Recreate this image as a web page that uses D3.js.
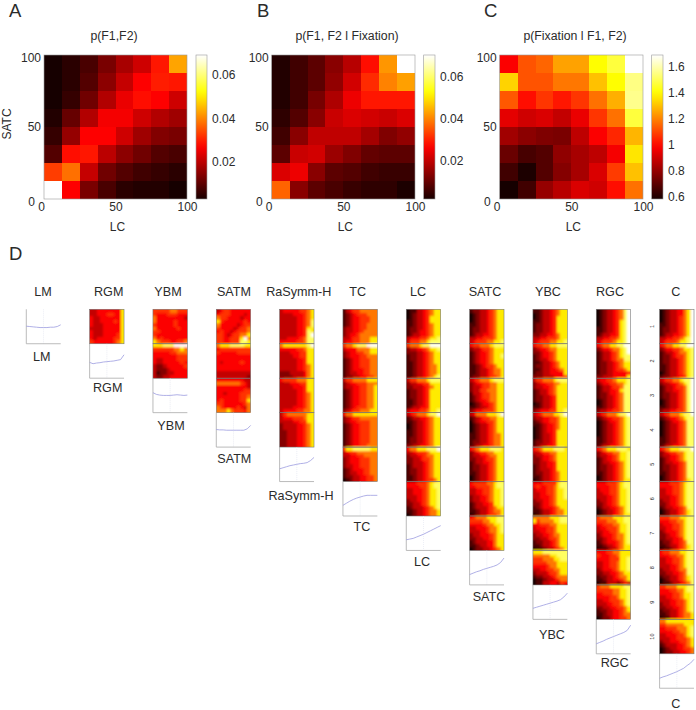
<!DOCTYPE html>
<html><head><meta charset="utf-8">
<script src="https://cdn.jsdelivr.net/npm/d3@7"></script>
<style>html,body{margin:0;padding:0;background:#fff}svg{display:block}text{font-family:"Liberation Sans",Arial,sans-serif;fill:#2b2b2b}</style>
</head><body><svg id="c" width="696" height="710"></svg>
<script>
// ---------- top panels ----------
const tickLabels=[0,50,100];
const binEdges=d3.range(8);
const pJoint=[
[.003,.005,.008,.013,.018,.022,.029,.043],
[.003,.005,.009,.015,.021,.027,.030,.029],
[.003,.006,.012,.019,.025,.028,.027,.022],
[.004,.011,.019,.026,.026,.022,.019,.017],
[.006,.016,.027,.027,.022,.017,.014,.013],
[.009,.028,.029,.020,.015,.012,.009,.008],
[.033,.038,.021,.012,.009,.007,.006,.005],
[.069,.027,.013,.008,.005,.004,.004,.003]];
const pFix=[
[.003,.006,.009,.014,.019,.028,.042,.0705],
[.003,.006,.009,.015,.022,.031,.040,.043],
[.003,.006,.012,.018,.025,.029,.029,.029],
[.004,.008,.014,.021,.023,.022,.021,.023],
[.006,.014,.020,.020,.020,.017,.013,.015],
[.009,.021,.022,.016,.013,.010,.009,.009],
[.023,.025,.014,.009,.008,.006,.005,.005],
[.037,.014,.009,.007,.005,.004,.004,.002]];
const pCond=[
[.98,1.12,1.15,1.25,1.25,1.40,1.47,1.69],
[1.33,1.12,1.12,1.18,1.18,1.30,1.40,1.55],
[1.13,1.00,1.07,1.02,1.07,1.17,1.27,1.56],
[.94,.90,.92,.88,.95,1.07,1.17,1.47],
[.82,.78,.76,.75,.87,.98,1.05,1.28],
[.72,.66,.68,.79,.83,.87,.97,1.36],
[.65,.59,.68,.77,.83,.92,1.08,1.30],
[.58,.65,.80,.86,.92,.90,1.00,1.17]];
// ---------- panel D: heat levels 0-9 (ten rows of ten cells each) ----------
const colNames=["LM","RGM","YBM","SATM","RaSymm-H","TC","LC","SATC","YBC","RGC","C"];
const hRGM=["3344444447 3344455447 4334444447 4334444547 4333444447 3333444447 4333444447 4333444457 4344444557 5444444567"];
const hYBM=["5555566555 5444555444 6444444443 6444445444 5444445444 6444444544 5544444444 5444444444 6454444444 7655544556",
"7778889999 5555556676 4444455666 4444444555 4334444555 4334444454 3223444445 3222344444 3122334444 3223344444"];
const hSATM=["3455444444 4555444434 6554444344 7544444454 6444443455 5444434556 4544345556 5543455667 5544555796 5544555887",
"6777888877 4555555555 5444445555 4444444444 4444444444 4344444544 4444444444 4444444444 3333333333 3333333332",
"4444444433 6666666543 4444444443 4444444455 4434444555 4444444556 4544444557 5544444456 6544445436 6667655546"];
const hRaSymm=["3444445567 3333444567 3333344567 3333344568 3333344568 3333344577 3333344587 3333344589 3344445688 4444455688",
"6777777789 4444455677 3334445577 3333445577 3333344577 3333344577 3333344567 3333344567 2223333467 2222333467",
"4555566677 3334445577 3333444577 3333344577 3333344567 3333344567 3333344567 3333344567 3333444567 3444455667",
"3566666677 3444555677 3333445577 2333344567 2333344567 2233344567 2233344567 2233344567 2233344567 2233344567"];
const hTC=["1345566666 1234555666 1234455566 1234455566 1234455666 2334455666 2334456666 2344566666 3345566677 3445566677",
"5667888999 3444666677 2344556677 2344455666 1234455566 1234455566 1234455566 1234445566 1233445566 1223344556",
"3556666777 2344555666 2334455667 1234455667 1234455667 1234455667 1234455667 1234455667 1234555667 2345566677",
"4667777777 2345566666 2344555566 1234455566 1234455566 1234455566 1234455566 1234455566 1234455566 1234455666",
"5778888877 3455666666 3344556666 2344455566 2344455566 2334455566 1234445566 1233445566 1223344556 0123344556"];
const hLC=["0113345677 0123345677 0123345777 1123345777 1123345677 1223345677 1223445677 1233445677 3444556778 3555667888",
"5666788999 2334456778 2223345677 1223345677 1223345677 1123345677 1123345667 1123345667 1123345667 1123345678",
"3556667888 2334455777 2233345677 1223345777 1223345777 1223345777 1123345777 1123345777 1233445777 3444556778",
"3456667889 1233445677 1123345677 0123345677 0123345677 1123345677 1123345677 1223345677 1223345677 2233445677",
"4667778889 3345556777 2334456677 2233455677 2233345677 1233345677 1223345677 1223345677 1123345677 1123345567",
"4445556788 4444556788 3344456778 3344456778 3334456778 2334456778 2233456778 1233345678 1123345667 0123345667"];
const hSATC=["1223345677 0123345677 0123345677 0123345677 1123345677 1223345677 1223345677 1233445677 3344555677 3455566778",
"4556667888 2334556777 1234456777 1234456778 1234456777 1234456777 1123455677 1123345667 1123345667 1223345567",
"3456667888 2344556677 2334556677 2335566677 1334556677 1234556677 1234456677 0123445677 1123345677 2344555677",
"3466677789 1234556677 0234455677 0123345677 0123345677 0123345677 1123345667 1123345667 1223345667 1233445667",
"4567778887 2345566777 2334456677 2233455677 1233445677 1223345677 1223345677 1123345677 0123345677 0123345677",
"4555566788 4455556788 3344556778 3344556778 2334456778 2334456778 1233445778 1233345677 1123345667 0123345567",
"4566677788 5555667788 4444566778 3344456678 3334456678 2334445677 2233445677 1233344677 1123344677 0122334567"];
const hYBC=["1123345677 0123345677 0123345777 1123345777 1223345777 1223345777 1223345777 2233445677 3344555677 3455566778",
"4556677888 2344566777 2234456777 1234456777 1233456777 1123345677 1223345677 1123344567 1223344447 2223334445",
"3556667888 2344556677 2334456777 1233456777 1233456777 1223345777 1223345777 0123345777 1123345777 2344455778",
"3456667789 2334455677 1234455677 1123445677 0123445677 0123445777 0123345777 0123345777 1223345777 1233445777",
"4567778887 3345566777 2334456777 2234456777 2233445777 1233445777 1233345777 1223345677 1123345677 0123345677",
"4445555788 4544556788 3444556778 3344556778 3344456778 2334456777 2234456777 1234445677 1123345667 0123345667",
"6666677788 7566667788 4455566777 3444556777 3344556777 2334456677 2233455677 1223345677 1123345677 0112334567",
"7778888888 6666677888 5556667788 5555666777 4444566777 3344556677 2333455677 1223345666 0112334566 0113344354"];
const hRGC=["0123345689 0123345689 0123345689 0123345789 0123345789 1123345789 1123345789 1233445789 3344556789 3455567789",
"4566778899 2344566789 1233456789 1233456788 1233456688 1223345677 1223345677 1223345567 1223344445 2233344447",
"3445567778 2344556678 1233455688 1233445788 1223445688 1223345688 0123345688 0123345688 1123345688 2334455688",
"3456667889 1234455678 0123445678 0123345678 0123345678 0123345678 0123345678 1123345678 1123345678 1233445678",
"4567778887 2345566778 2334456778 1234456778 1233445678 1223345678 1223345678 1123345678 0123345678 0123345677",
"4445556788 4444556788 3444556778 3344556778 3334456778 2334456778 2234456778 1233445678 0123345678 0123345677",
"5666677788 5556667788 4455566778 3445556778 3344556778 2344456678 2234456678 1234445678 1123345677 0112335677",
"4445566777 5444556777 4444555778 3344556778 3344556778 2344456778 2233445677 1223345667 1123344567 0113332343",
"5666777788 5555566778 4455566778 4444556778 3344555678 3334455678 2233445567 1223344567 1123344566 0122344556"];
const hC=["0123344679 0123344679 0123345679 0123345679 1123345679 1223345679 1223345679 1233445679 3344556789 3455567789",
"4566778899 2344556778 1233456678 1223455678 1223345678 1223345678 1123345678 1123345678 0123345678 1223344578",
"3455667889 2334456789 1233455689 1233445689 1223345689 1223345689 0123345689 0123345689 1123345689 2334455689",
"3456667889 1234456788 0123445688 0123345688 0123345688 0123345688 0123345688 1123345688 1123345688 1233445688",
"4567778889 2345566788 2334456788 1234456788 1233445688 1223345688 1223345688 1123345688 0123345688 0123345678",
"4445556788 4444556788 3344556788 3344556788 3334456788 2334456788 2234456788 1233445688 0123345678 0123345678",
"5556667788 4445566788 3444556788 3344556788 2344456788 2234456788 2233445788 1223445688 1123345678 0112345678",
"4556667788 4445566788 3344556788 3344556788 3334456788 2334456688 2233445688 1223345678 0123345678 0112334568",
"5566677788 4445566788 4444556778 3344556778 3334455678 2334455678 2233445678 1223345678 1123345667 0113345667",
"6677777777 5566666777 4455566678 4444556678 3344455678 3334455567 2334445567 1233344567 0123344556 0122334456"];
const heatByCol=[[],hRGM,hYBM,hSATM,hRaSymm,hTC,hLC,hSATC,hYBC,hRGC,hC];
// ---------- panel D: curves ----------
const curveX=d3.range(11);
const lineLM=[.51,.50,.49,.48,.47,.47,.47,.48,.48,.50,.55];
const lineRGM=[.46,.42,.44,.45,.47,.48,.49,.50,.52,.54,.68];
const lineYBM=[.58,.53,.51,.50,.50,.50,.51,.52,.51,.50,.51];
const lineSATM=[.51,.50,.50,.49,.49,.49,.49,.49,.49,.53,.63];
const lineRaSymm=[.37,.40,.43,.46,.48,.50,.52,.53,.55,.61,.70];
const lineTC=[.31,.37,.43,.48,.52,.55,.58,.60,.60,.60,.60];
const lineLC=[.31,.33,.35,.39,.43,.47,.52,.57,.62,.67,.72];
const lineSATC=[.30,.34,.38,.41,.45,.48,.51,.54,.58,.65,.78];
const lineYBC=[.32,.35,.38,.41,.44,.47,.50,.53,.57,.65,.76];
const lineRGC=[.29,.33,.37,.42,.46,.50,.54,.58,.62,.68,.83];
const lineC=[.29,.33,.36,.40,.44,.48,.53,.58,.66,.73,.84];
const lineByCol=[lineLM,lineRGM,lineYBM,lineSATM,lineRaSymm,lineTC,lineLC,lineSATC,lineYBC,lineRGC,lineC];
const rowTags=d3.range(1,11);

// ---------- drawing ----------
const svg=d3.select("#c");
const hot=t=>{t=Math.max(0,Math.min(1,t));
 const f=(a,b)=>Math.round(255*Math.max(0,Math.min(1,(t-a)/(b-a))));
 return `rgb(${f(-.04,.365)},${f(.365,.74)},${f(.74,1)})`;};
const defs=svg.append("defs");
const blurDef=(id,sd)=>defs.append("filter").attr("id",id).attr("filterUnits","userSpaceOnUse")
 .attr("x",0).attr("y",0).attr("width",696).attr("height",710)
 .append("feGaussianBlur").attr("stdDeviation",sd);
blurDef("soft",.5);blurDef("softer",.8);
let clipN=0;
const clipped=(x,y,w,h)=>{const id="clip"+(clipN++);
 defs.append("clipPath").attr("id",id).append("rect").attr("x",x).attr("y",y).attr("width",w).attr("height",h);
 return id;};
const bleed=3;

const topPanels=[
 {id:"A",lx:9,title:"p(F1,F2)",tx:114,x0:44,x1:187,cb0:196,cb1:207,m:pJoint,dom:[.003,.069],ticks:[.02,.04,.06],fmt:d3.format(".2f"),ylab:true},
 {id:"B",lx:257,title:"p(F1, F2 l Fixation)",tx:347,x0:271.7,x1:415,cb0:423.7,cb1:435,m:pFix,dom:[.0018,.0705],ticks:[.02,.04,.06],fmt:d3.format(".2f")},
 {id:"C",lx:484,title:"p(Fixation l F1, F2)",tx:575,x0:499.7,x1:643,cb0:651.7,cb1:663,m:pCond,dom:[.58,1.69],ticks:[.6,.8,1,1.2,1.4,1.6],fmt:d3.format("~g")}];
const yTop=55,yBot=199;
topPanels.forEach(p=>{
 const g=svg.append("g");
 g.append("text").attr("x",p.lx).attr("y",17).attr("font-size",18.5).text(p.id);
 g.append("text").attr("x",p.tx).attr("y",40).attr("text-anchor","middle").attr("font-size",12.3).text(p.title);
 const xb=d3.scaleBand().domain(binEdges).range([p.x0,p.x1]);
 const yb=d3.scaleBand().domain(binEdges).range([yTop,yBot]);
 const col=d3.scaleLinear().domain(p.dom).range([0,1]);
 const clipG=g.append("g").attr("clip-path",`url(#${clipped(p.x0,yTop,p.x1-p.x0,yBot-yTop)})`);
 const cg=clipG.append("g").attr("filter","url(#soft)").attr("shape-rendering","crispEdges");
 p.m.forEach((row,r)=>row.forEach((v,c)=>{
  const bx=c===0?bleed:0,by=r===0?bleed:0,ex=c===7?bleed:0,ey=r===7?bleed:0;
  cg.append("rect").attr("x",xb(c)-bx).attr("y",yb(r)-by)
  .attr("width",xb.bandwidth()+.5+bx+ex).attr("height",yb.bandwidth()+.5+by+ey).attr("fill",hot(col(v)));}));
 g.append("rect").attr("x",p.x0).attr("y",yTop).attr("width",p.x1-p.x0).attr("height",yBot-yTop)
  .attr("fill","none").attr("stroke","#999").attr("stroke-width",.6);
 const xs=d3.scaleLinear().domain([0,100]).range([p.x0,p.x1]);
 const ys=d3.scaleLinear().domain([0,100]).range([yBot,yTop]);
 const ax=g.append("g").attr("transform",`translate(0,${yBot})`)
  .call(d3.axisBottom(xs).tickValues(tickLabels).tickSize(0).tickPadding(3));
 ax.select(".domain").remove();
 ax.selectAll("text").attr("font-size",12).attr("font-family","Liberation Sans").attr("dx",d=>d===0?-3:0);
 const ay=g.append("g").attr("transform",`translate(${p.x0},0)`)
  .call(d3.axisLeft(ys).tickValues(tickLabels).tickSize(0).tickPadding(3));
 ay.select(".domain").remove();
 ay.selectAll("text").attr("font-size",12).attr("font-family","Liberation Sans")
   .attr("dx",d=>d===0?-6:0).attr("dy",d=>d===0?"0.55em":d===100?"0.5em":"0.32em");
 g.append("text").attr("x",(p.x0+p.x1)/2+2).attr("y",230.5).attr("text-anchor","middle").attr("font-size",12).text("LC");
 if(p.ylab) g.append("text").attr("transform","translate(11,124) rotate(-90)").attr("text-anchor","middle").attr("font-size",12).text("SATC");
 // colourbar
 const cs=d3.scaleLinear().domain(p.dom).range([yBot,yTop]);
 const gid="grad"+p.id;
 const lg=defs.append("linearGradient").attr("id",gid).attr("x1",0).attr("x2",0).attr("y1",1).attr("y2",0);
 d3.range(0,1.0001,.05).forEach(t=>lg.append("stop").attr("offset",t).attr("stop-color",hot(t)));
 g.append("rect").attr("x",p.cb0).attr("y",yTop).attr("width",p.cb1-p.cb0).attr("height",yBot-yTop)
  .attr("fill",`url(#${gid})`).attr("stroke","#999").attr("stroke-width",.6);
 const ac=g.append("g").attr("transform",`translate(${p.cb1},0)`)
  .call(d3.axisRight(cs).tickValues(p.ticks).tickFormat(p.fmt).tickSize(0).tickPadding(5));
 ac.select(".domain").remove();
 ac.selectAll("text").attr("font-size",12).attr("font-family","Liberation Sans");
});
svg.append("text").attr("x",9).attr("y",260).attr("font-size",18.5).text("D");

// panel D
const left0=26.3,colStep=63.33,pw=34.4,ph=34.45,top0=309.3;
const topLabelX=[43,108.7,168,234,298.7,357.7,418,485,548,610,675.7];
const botLabelX=[41.7,107.7,171,234.3,301,362,422,489,552,614.7,675.7];
const botLabelY=[361,392,430,463,500,530.5,566,601,638.5,666.5,707.5];
const cellFrac=d3.scaleBand().domain(d3.range(10)).range([0,1]);
const lvl=d3.scaleLinear().domain([0,1,2,3,4,5,6,7,8,9]).range([0,.08,.17,.27,.36,.44,.54,.71,.84,1]);
const cx=d3.scaleLinear().domain([0,10]).range([0,pw]);
const cy=d3.scaleLinear().domain([0,1]).range([ph,0]);
colNames.forEach((name,i)=>{
 const x0=left0+colStep*i;
 svg.append("text").attr("x",topLabelX[i]).attr("y",295.5).attr("text-anchor","middle").attr("font-size",12.6).text(name);
 const panels=heatByCol[i];
 if(panels.length){
 const clipG=svg.append("g").attr("clip-path",`url(#${clipped(x0,top0,pw,ph*panels.length)})`);
 const hg=clipG.append("g").attr("filter","url(#softer)").attr("shape-rendering","crispEdges");
 panels.forEach((s,k)=>{
  const rows=s.split(" "),y0=top0+ph*k;
  rows.forEach((row,r)=>row.split("").forEach((d,c)=>{
    const bx=c===0?bleed:0,ex=c===9?bleed:0,by=(k===0&&r===0)?bleed:0,ey=(k===panels.length-1&&r===9)?bleed:0;
    hg.append("rect").attr("x",x0+cellFrac(c)*pw-bx).attr("y",y0+cellFrac(r)*ph-by)
    .attr("width",pw/10+.5+bx+ex).attr("height",ph/10+.5+by+ey).attr("fill",hot(lvl(+d)));}));
 });
 panels.forEach((s,k)=>svg.append("rect").attr("x",x0).attr("y",top0+ph*k).attr("width",pw).attr("height",ph)
   .attr("fill","none").attr("stroke","#777").attr("stroke-width",.6));
 }
 // curve panel
 const yc=top0+ph*panels.length;
 const lg=svg.append("g").attr("transform",`translate(${x0},${yc})`);
 lg.append("line").attr("x1",cx(5)).attr("x2",cx(5)).attr("y1",0).attr("y2",ph)
   .attr("stroke","#dfe3ee").attr("stroke-width",.6).attr("stroke-dasharray","1,1");
 lg.append("path").attr("d",`M0,0V${ph}H${pw}`).attr("fill","none").attr("stroke","#aaa").attr("stroke-width",.8);
 lg.append("path").datum(lineByCol[i]).attr("fill","none").attr("stroke","#9c9ce0").attr("stroke-width",.8)
   .attr("d",d3.line().x((d,j)=>cx(curveX[j])).y(d=>cy(d)));
 svg.append("text").attr("x",botLabelX[i]).attr("y",botLabelY[i]).attr("text-anchor","middle").attr("font-size",12.6).text(name);
});
rowTags.forEach((n,k)=>svg.append("text").attr("transform",`translate(653.5,${top0+ph*(k+.5)}) rotate(-90)`)
  .attr("text-anchor","middle").attr("font-size",5.5).attr("fill","#555").text(n));
</script></body></html>
